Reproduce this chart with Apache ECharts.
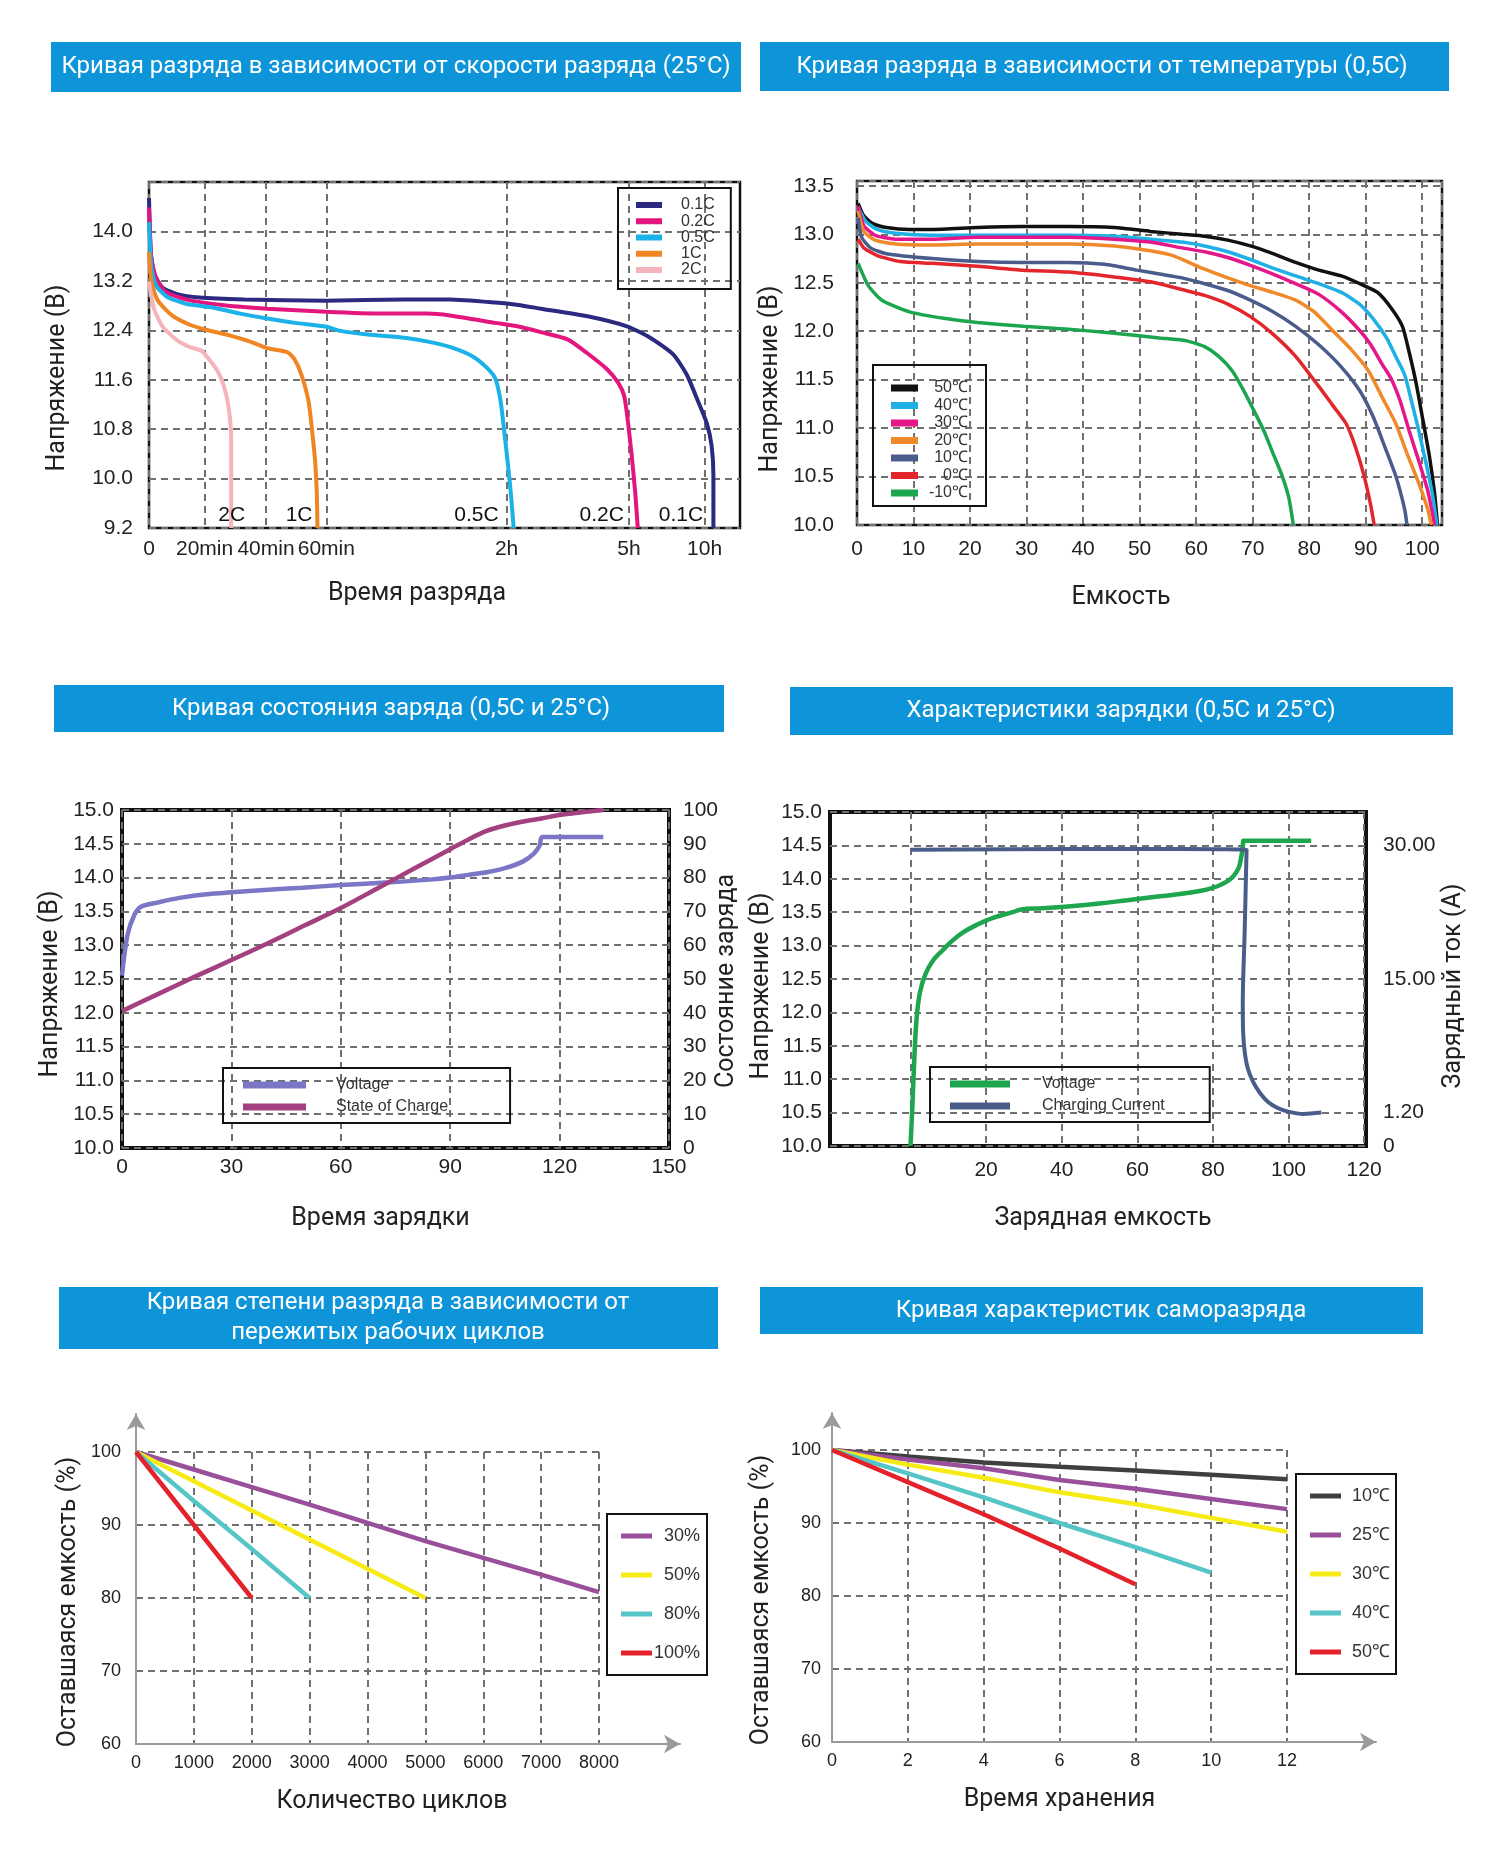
<!DOCTYPE html>
<html><head><meta charset="utf-8">
<script src="https://cdn.jsdelivr.net/npm/echarts@6/dist/echarts.min.js"></script>
<style>html,body{margin:0;padding:0;background:#fff}#c{width:1500px;height:1860px}</style>
</head><body><div id="c"></div>
<script>
// ---------- Panel 1: discharge vs rate (x in discharge-time axis units) ----------
const P1_TICK_POS = [0, 0.94, 1.98, 3.0, 6.05, 8.12, 9.40];
const P1_TICK_LABELS = ['0', '20min', '40min', '60min', '2h', '5h', '10h'];
const P1_NAMES = ['0.1C', '0.2C', '0.5C', '1C', '2C'];
const P1_01C = [[0,14.54],[0.03,13.67],[0.09,13.31],[0.23,13.09],[0.46,12.99],[0.85,12.93],[1.62,12.90],[2.99,12.88],[4.32,12.90],[5.09,12.90],[5.86,12.85],[6.25,12.81],[6.63,12.75],[7.40,12.63],[8.10,12.46],[8.48,12.28],[8.87,12.01],[9.10,11.68],[9.29,11.25],[9.44,10.89],[9.52,10.53],[9.55,10.05],[9.55,9.2]];
const P1_02C = [[0,14.39],[0.04,13.55],[0.12,13.25],[0.27,13.03],[0.62,12.90],[1.23,12.81],[2.00,12.75],[2.99,12.70],[3.93,12.67],[4.70,12.67],[5.09,12.64],[5.86,12.52],[6.25,12.46],[6.63,12.37],[7.09,12.25],[7.40,12.04],[7.75,11.77],[7.94,11.55],[8.04,11.34],[8.10,10.95],[8.17,10.35],[8.23,9.74],[8.27,9.2]];
const P1_05C = [[0,14.15],[0.04,13.43],[0.12,13.12],[0.31,12.94],[0.62,12.83],[1.08,12.77],[1.54,12.67],[2.00,12.59],[2.47,12.52],[2.99,12.46],[3.24,12.39],[3.70,12.33],[4.32,12.28],[4.70,12.22],[5.09,12.13],[5.47,11.98],[5.71,11.80],[5.86,11.62],[5.95,11.25],[6.01,10.77],[6.08,10.17],[6.13,9.68],[6.17,9.2]];
const P1_1C = [[0,13.67],[0.04,13.19],[0.15,12.88],[0.39,12.64],[0.69,12.49],[1.00,12.40],[1.39,12.31],[1.70,12.22],[2.00,12.11],[2.35,12.04],[2.47,11.92],[2.58,11.68],[2.70,11.25],[2.76,10.77],[2.81,10.29],[2.84,9.74],[2.85,9.2]];
const P1_2C = [[0,13.19],[0.08,12.76],[0.23,12.46],[0.46,12.25],[0.69,12.13],[0.89,12.07],[1.00,11.95],[1.16,11.74],[1.27,11.49],[1.35,11.13],[1.39,10.65],[1.39,10.05],[1.39,9.2]];
const P1_CURVE_LABELS = [[1.40,'2C'],[2.54,'1C'],[5.54,'0.5C'],[7.66,'0.2C'],[9.0,'0.1C']];

// ---------- Panel 2: discharge vs temperature (capacity %, V) ----------
const P2_NAMES = ['50℃', '40℃', '30℃', '20℃', '10℃', '0℃', '-10℃'];
const P2_50 = [[0.2,13.32],[1.2,13.19],[2.8,13.11],[5.2,13.07],[9.3,13.05],[13.3,13.05],[21.3,13.07],[29.4,13.08],[37.4,13.08],[45.5,13.07],[51.9,13.03],[57.5,13.00],[61.5,12.98],[65.6,12.94],[69.6,12.88],[73.6,12.80],[77.6,12.71],[81.7,12.63],[85.7,12.57],[89.7,12.47],[92.1,12.40],[94.5,12.24],[96.5,12.05],[97.7,11.78],[98.9,11.47],[100.1,11.09],[101.3,10.70],[102.2,10.32],[102.7,10.0]];
const P2_40 = [[0.2,13.28],[1.6,13.13],[3.6,13.05],[6.8,13.01],[13.3,12.99],[21.3,12.99],[29.4,12.99],[37.4,12.99],[45.5,12.98],[51.9,12.95],[57.5,12.92],[61.5,12.88],[65.6,12.82],[69.6,12.74],[73.6,12.65],[77.6,12.57],[81.7,12.49],[85.7,12.40],[88.9,12.28],[91.3,12.13],[93.7,11.93],[95.3,11.74],[96.9,11.55],[98.1,11.28],[99.4,10.97],[100.6,10.66],[101.8,10.32],[102.6,10.0]];
const P2_30 = [[0.2,13.29],[1.2,13.09],[3.2,12.99],[6.8,12.95],[13.3,12.95],[21.3,12.97],[29.4,12.97],[37.4,12.97],[45.5,12.95],[51.9,12.92],[57.5,12.86],[61.5,12.82],[65.6,12.76],[69.6,12.68],[73.6,12.59],[77.6,12.49],[81.7,12.38],[85.7,12.20],[88.9,12.01],[90.9,11.86],[92.9,11.66],[94.5,11.51],[96.1,11.28],[97.7,10.97],[99.4,10.66],[101.0,10.35],[102.2,10.0]];
const P2_20 = [[0.2,13.24],[1.2,13.03],[3.2,12.94],[6.8,12.90],[13.3,12.89],[21.3,12.90],[29.4,12.90],[37.4,12.90],[45.5,12.88],[51.9,12.83],[55.9,12.78],[59.1,12.70],[61.5,12.64],[65.6,12.55],[69.6,12.47],[73.6,12.40],[77.6,12.32],[80.9,12.20],[84.1,12.01],[87.3,11.82],[90.5,11.59],[92.9,11.32],[95.3,11.05],[97.3,10.74],[99.4,10.43],[101.0,10.16],[101.6,10.0]];
const P2_10 = [[0.2,13.17],[0.8,12.97],[2.4,12.86],[5.2,12.80],[13.3,12.75],[21.3,12.72],[29.4,12.71],[37.4,12.71],[43.8,12.69],[49.5,12.63],[53.5,12.59],[57.5,12.55],[61.5,12.49],[65.6,12.42],[69.6,12.32],[73.6,12.20],[77.6,12.05],[81.7,11.86],[85.7,11.63],[88.9,11.39],[91.3,11.12],[93.3,10.82],[95.3,10.51],[96.9,10.16],[97.3,10.0]];
const P2_0 = [[0.2,12.95],[1.2,12.86],[3.6,12.78],[7.6,12.72],[13.3,12.70],[21.3,12.67],[29.4,12.63],[37.4,12.61],[45.5,12.56],[51.9,12.51],[57.5,12.43],[61.5,12.37],[65.6,12.28],[69.6,12.15],[73.6,11.97],[77.6,11.74],[81.7,11.43],[84.1,11.24],[86.5,11.05],[88.1,10.82],[89.7,10.51],[90.9,10.20],[91.5,10.0]];
const P2_M10 = [[0.2,12.70],[2.0,12.47],[4.4,12.32],[9.3,12.20],[15.7,12.13],[21.3,12.09],[29.4,12.05],[37.4,12.02],[45.5,11.98],[53.5,11.93],[58.3,11.90],[61.5,11.84],[64.0,11.74],[66.4,11.59],[68.4,11.39],[70.4,11.16],[72.0,10.97],[73.6,10.74],[75.2,10.51],[76.4,10.28],[77.2,10.0]];

// ---------- Panel 3: state of charge (time, V / %) ----------
const P3_VOLTAGE = [[0,12.55],[1.5,13.15],[3.4,13.45],[5.2,13.57],[9.6,13.63],[15.8,13.70],[24.6,13.76],[37,13.81],[49.5,13.85],[60,13.89],[73.5,13.93],[84.5,13.97],[90,14.0],[95,14.04],[100,14.08],[105,14.14],[110,14.24],[113,14.36],[114.5,14.47],[115.3,14.6],[132,14.6]];
const P3_SOC = [[0,40.5],[10,45.6],[20,50.7],[30,55.6],[40,60.6],[50,65.8],[60,71.0],[70,76.8],[80,82.6],[90,88.4],[95,91.3],[100,93.8],[105,95.4],[110,96.6],[115,97.5],[120,98.5],[126,99.3],[132,100]];

// ---------- Panel 4: charging (capacity, V / A) ----------
const P4_X_TICKS = [0, 20, 40, 60, 80, 100, 120];
const P4_VOLTAGE = [[0,10.0],[0.5,10.6],[1.0,11.3],[1.6,11.9],[2.5,12.3],[4.0,12.58],[6.0,12.78],[8.5,12.93],[11,13.07],[14,13.2],[17.5,13.31],[22,13.42],[27,13.5],[29.3,13.54],[34.9,13.56],[42.4,13.59],[49.9,13.63],[57.4,13.68],[64.8,13.73],[72.3,13.78],[79.7,13.86],[84.5,13.99],[86.7,14.15],[87.5,14.33],[87.9,14.47],[88.0,14.57],[106.0,14.57]];
const P4_CURRENT = [[0,29.5],[44,29.6],[88.9,29.5],[88.4,20.3],[87.9,12.5],[88.0,9.5],[88.4,7.5],[89.2,5.8],[90.6,4.4],[92.5,3.2],[94.6,2.3],[97.0,1.7],[99.9,1.3],[104,1.15],[108.7,1.2]];
const P4_CURRENT_TICKS = [0, 1.2, 15, 30];
const P4_CURRENT_TICK_LABELS = ['0', '1.20', '15.00', '30.00'];
const P4_CURRENT_TICK_AT_V = [10, 10.5, 12.5, 14.5]; // where the right-axis ticks sit on the voltage scale

// ---------- Panel 5: cycles ----------
const P5_NAMES = ['30%', '50%', '80%', '100%'];
const P5_30 = [[0,100],[1000,97.6],[2000,95.2],[3000,92.8],[4000,90.3],[5000,87.8],[6000,85.5],[7000,83.2],[8000,80.8]];
const P5_50 = [[0,100],[1000,96],[2000,92],[3000,88],[4000,84],[5000,80]];
const P5_80 = [[0,100],[1000,93.3],[2000,86.7],[3000,80]];
const P5_100 = [[0,100],[1000,90],[2000,80]];

// ---------- Panel 6: self-discharge ----------
const P6_NAMES = ['10℃', '25℃', '30℃', '40℃', '50℃'];
const P6_10 = [[0,100],[2,99.1],[4,98.3],[6,97.7],[8,97.2],[10,96.6],[12,96.0]];
const P6_25 = [[0,100],[2,98.7],[4,97.5],[6,95.9],[8,94.7],[10,93.3],[12,91.9]];
const P6_30 = [[0,100],[2,98.0],[4,96.2],[6,94.2],[8,92.6],[10,90.7],[12,88.8]];
const P6_40 = [[0,100],[2,96.8],[4,93.5],[6,90.0],[8,86.7],[10,83.2]];
const P6_50 = [[0,100],[2,95.6],[4,91.2],[6,86.5],[8,81.6]];

const TITLES = [
  'Кривая разряда в зависимости от скорости разряда (25°C)',
  'Кривая разряда в зависимости от температуры (0,5C)',
  'Кривая состояния заряда (0,5C и 25°C)',
  'Характеристики зарядки (0,5C и 25°C)',
  'Кривая степени разряда в зависимости от\nпережитых рабочих циклов',
  'Кривая характеристик саморазряда'
];

// ---------------------------------------------------------------------
const FN = "'Liberation Sans', Arial, Helvetica, sans-serif";
const FT = "Roboto, 'Noto Sans', 'Liberation Sans', sans-serif";
const TXT = '#222';
const BLUE = '#0e95d9';
const DASH = {show: true, lineStyle: {color: '#707070', width: 2, type: [7, 5]}};
const NAME_SIZE = 25;

function currentToPos(a) {
  const t = P4_CURRENT_TICKS, p = P4_CURRENT_TICK_AT_V;
  for (let i = 0; i < t.length - 1; i++) {
    if (a <= t[i + 1] || i === t.length - 2) {
      return p[i] + (a - t[i]) / (t[i + 1] - t[i]) * (p[i + 1] - p[i]);
    }
  }
}
function lab(size, margin, extra) {
  return Object.assign({fontSize: size, color: TXT, fontFamily: FN, margin: margin}, extra || {});
}
function nm(pad) {
  return {fontSize: NAME_SIZE, color: TXT, fontFamily: FT, padding: pad || [0, 0, 0, 0]};
}
const NONE = {show: false};
function line(name, data, color, xi, yi, width, smooth) {
  return {type: 'line', name: name, data: data, xAxisIndex: xi, yAxisIndex: yi, symbol: 'none', showSymbol: false,
    smooth: smooth === undefined ? 0.2 : smooth, lineStyle: {width: width || 4, color: color}, itemStyle: {color: color},
    clip: true, animation: false, z: 3};
}

const LEG_LABEL = {};
function legend(prefix, names, opts) {
  const data = names.map(n => { LEG_LABEL[prefix + n] = n; return prefix + n; });
  return Object.assign({
    data: data, orient: 'vertical', icon: 'rect', selectedMode: false,
    borderColor: '#111', borderWidth: 2, backgroundColor: 'transparent'
  }, opts);
}

const graphic = [];
const bars = [
  [51, 42, 690, 50, 396, 67],
  [760, 42, 689, 49, 1102, 67],
  [54, 685, 670, 47, 391, 709],
  [790, 687, 663, 48, 1121, 711],
  [59, 1287, 659, 62, 388, 1318],
  [760, 1287, 663, 47, 1101, 1311]
];
bars.forEach((b, i) => {
  graphic.push({type: 'rect', shape: {x: b[0], y: b[1], width: b[2], height: b[3]}, style: {fill: BLUE}, z: 1});
  graphic.push({type: 'text', x: b[4], y: b[5], z: 2, style: {text: TITLES[i], fill: '#fff', align: 'center', verticalAlign: 'middle',
    font: 'normal 24px ' + FT, lineHeight: 30}});
});

const grid = [
  {left: 149, top: 182, width: 591, height: 346, show: true, borderColor: '#111', borderWidth: 2.5},
  {left: 857, top: 181, width: 585, height: 344, show: true, borderColor: '#111', borderWidth: 2.5},
  {left: 122, top: 810, width: 547, height: 338, show: true, borderColor: '#111', borderWidth: 4},
  {left: 830, top: 812, width: 536, height: 334, show: true, borderColor: '#111', borderWidth: 4},
  {left: 136, top: 1452, width: 463, height: 292},
  {left: 136, top: 1414, width: 544, height: 330},
  {left: 832, top: 1450, width: 455, height: 292},
  {left: 832, top: 1413, width: 544, height: 329}
];

function arrowAxis(gi) {
  return {gridIndex: gi, type: 'value', min: 0, max: 1,
    axisLine: {show: true, symbol: ['none', 'arrow'], symbolSize: [14, 16], lineStyle: {color: '#9a9a9a', width: 2}},
    axisTick: NONE, axisLabel: NONE, splitLine: NONE};
}
const plain = v => String(v);

const xAxis = [
  {gridIndex: 0, type: 'value', min: 0, max: 10, axisLine: NONE,
    axisTick: {show: false, customValues: P1_TICK_POS},
    axisLabel: lab(21, 11, {customValues: P1_TICK_POS, formatter: v => { const i = P1_TICK_POS.indexOf(v); return i < 0 ? '' : P1_TICK_LABELS[i]; }}),
    splitLine: DASH, name: 'Время разряда', nameLocation: 'middle', nameGap: 53, nameTextStyle: nm([0, 55, 0, 0])},
  {gridIndex: 1, type: 'value', min: 0, max: 103.5, interval: 10, axisLine: NONE, axisTick: NONE,
    axisLabel: lab(21, 14, {showMaxLabel: false}), splitLine: DASH,
    name: 'Емкость', nameLocation: 'middle', nameGap: 60, nameTextStyle: nm([0, 57, 0, 0])},
  {gridIndex: 2, type: 'value', min: 0, max: 150, interval: 30, axisLine: NONE, axisTick: NONE,
    axisLabel: lab(21, 9), splitLine: DASH,
    name: 'Время зарядки', nameLocation: 'middle', nameGap: 58, nameTextStyle: nm([0, 30, 0, 0])},
  {gridIndex: 3, type: 'value', min: -21.3, max: 120.5, axisLine: NONE,
    axisTick: {show: false, customValues: P4_X_TICKS},
    axisLabel: lab(21, 14, {customValues: P4_X_TICKS}), splitLine: DASH,
    name: 'Зарядная емкость', nameLocation: 'middle', nameGap: 60, nameTextStyle: nm([0, 0, 0, 10])},
  {gridIndex: 4, type: 'value', min: 0, max: 8000, interval: 1000, axisLine: NONE, axisTick: NONE,
    axisLabel: lab(18, 10, {formatter: plain}), splitLine: DASH,
    name: 'Количество циклов', nameLocation: 'middle', nameGap: 45, nameTextStyle: nm([0, 0, 0, 49])},
  arrowAxis(5),
  {gridIndex: 6, type: 'value', min: 0, max: 12, interval: 2, axisLine: NONE, axisTick: NONE,
    axisLabel: lab(18, 10, {formatter: plain}), splitLine: DASH,
    name: 'Время хранения', nameLocation: 'middle', nameGap: 45, nameTextStyle: nm()},
  arrowAxis(7)
];

const yAxis = [
  {gridIndex: 0, type: 'value', min: 9.2, max: 14.8, interval: 0.8, axisLine: NONE, axisTick: NONE,
    axisLabel: lab(21, 16, {showMaxLabel: false, formatter: v => v.toFixed(1)}), splitLine: DASH,
    name: 'Напряжение (B)', nameLocation: 'middle', nameGap: 79, nameTextStyle: nm([0, 46, 0, 0])},
  {gridIndex: 1, type: 'value', min: 10, max: 13.55, interval: 0.5, axisLine: NONE, axisTick: NONE,
    axisLabel: lab(21, 23, {showMaxLabel: false, formatter: v => v.toFixed(1)}), splitLine: DASH,
    name: 'Напряжение (B)', nameLocation: 'middle', nameGap: 74, nameTextStyle: nm([0, 52, 0, 0])},
  {gridIndex: 2, type: 'value', min: 10, max: 15, interval: 0.5, axisLine: NONE, axisTick: NONE,
    axisLabel: lab(21, 8, {formatter: v => v.toFixed(1)}), splitLine: DASH,
    name: 'Напряжение (B)', nameLocation: 'middle', nameGap: 59, nameTextStyle: nm([0, 10, 0, 0])},
  {gridIndex: 2, type: 'value', position: 'right', min: 0, max: 100, interval: 10, axisLine: NONE, axisTick: NONE,
    axisLabel: lab(21, 14), splitLine: NONE,
    name: 'Состояние заряда', nameLocation: 'middle', nameGap: 45, nameMoveOverlap: false, nameTextStyle: nm([0, 4, 0, 0])},
  {gridIndex: 3, type: 'value', min: 10, max: 15, interval: 0.5, axisLine: NONE, axisTick: NONE,
    axisLabel: lab(21, 8, {formatter: v => v.toFixed(1)}), splitLine: DASH,
    name: 'Напряжение (B)', nameLocation: 'middle', nameGap: 56, nameTextStyle: nm([0, 14, 0, 0])},
  {gridIndex: 3, type: 'value', position: 'right', min: 10, max: 15, axisLine: NONE,
    axisTick: {show: false, customValues: P4_CURRENT_TICK_AT_V},
    axisLabel: lab(21, 17, {customValues: P4_CURRENT_TICK_AT_V, formatter: v => { const i = P4_CURRENT_TICK_AT_V.indexOf(v); return i < 0 ? '' : P4_CURRENT_TICK_LABELS[i]; }}),
    splitLine: NONE,
    name: 'Зарядный ток (A)', nameLocation: 'middle', nameGap: 75, nameTextStyle: nm([0, 14, 0, 0])},
  {gridIndex: 4, type: 'value', min: 60, max: 100, interval: 10, axisLine: NONE, axisTick: NONE,
    axisLabel: lab(18, 15), splitLine: DASH,
    name: 'Оставшаяся емкость (%)', nameLocation: 'middle', nameGap: 55, nameTextStyle: nm([0, 8, 0, 0])},
  arrowAxis(5),
  {gridIndex: 6, type: 'value', min: 60, max: 100, interval: 10, axisLine: NONE, axisTick: NONE,
    axisLabel: lab(18, 11), splitLine: DASH,
    name: 'Оставшаяся емкость (%)', nameLocation: 'middle', nameGap: 58, nameTextStyle: nm([0, 8, 0, 0])},
  arrowAxis(7)
];

const C1 = ['#2b2a80', '#e3167f', '#1ab2e8', '#f08524', '#f5b3bc'];
const C2 = ['#111111', '#1fb0e6', '#e4168a', '#f0892a', '#4a5c8c', '#e3262c', '#1ba54e'];
const C5 = ['#9a4f9b', '#f6eb14', '#55c5c7', '#e3222b'];
const C6 = ['#3f3f3f', '#9a4f9b', '#f6eb14', '#55c5c7', '#e3222b'];

const series = [];
[P1_01C, P1_02C, P1_05C, P1_1C, P1_2C].forEach((d, i) => series.push(line('a' + P1_NAMES[i], d, C1[i], 0, 0, 4)));
series.push({type: 'scatter', xAxisIndex: 0, yAxisIndex: 0, symbolSize: 2, itemStyle: {color: 'rgba(0,0,0,0)'}, clip: false, silent: true, z: 5,
  data: P1_CURVE_LABELS.map(l => [l[0], 9.2, l[1]]),
  label: {show: true, position: 'top', distance: 1, formatter: p => p.data[2], fontSize: 21, color: '#111', opacity: 1, fontFamily: FN}});
[P2_50, P2_40, P2_30, P2_20, P2_10, P2_0, P2_M10].forEach((d, i) => series.push(line('b' + P2_NAMES[i], d, C2[i], 1, 1, 3.5)));
series.push(line('cVoltage', P3_VOLTAGE, '#7b76c6', 2, 2, 4.5, 0.3));
series.push(line('cState of Charge', P3_SOC, '#a3407f', 2, 3, 4.5, 0.3));
series.push(line('dVoltage', P4_VOLTAGE, '#1ea64e', 3, 4, 4.5, 0.4));
series.push(line('dCharging Current', P4_CURRENT.map(p => [p[0], currentToPos(p[1])]), '#4a5c8a', 3, 5, 4, 0.3));
[P5_30, P5_50, P5_80, P5_100].forEach((d, i) => series.push(line('e' + P5_NAMES[i], d, C5[i], 4, 6, 4.5, 0)));
[P6_10, P6_25, P6_30, P6_40, P6_50].forEach((d, i) => series.push(line('f' + P6_NAMES[i], d, C6[i], 6, 8, 4.5, 0)));

const legends = [
  legend('a', P1_NAMES, {left: 618, top: 188, itemWidth: 26, itemHeight: 6, itemGap: 0.25, padding: [9, 16, 11, 18],
    textStyle: {fontSize: 16, color: '#333', fontFamily: FN, padding: [0, 0, 0, 14]}}),
  legend('b', P2_NAMES, {left: 873, top: 365, itemWidth: 27, itemHeight: 7, itemGap: 1.5, padding: [15, 18, 5, 18],
    textStyle: {fontSize: 16, color: '#333', fontFamily: FN, rich: {r: {width: 45, align: 'right', fontSize: 16, color: '#333', fontFamily: FN}}},
    formatter: n => '{r|' + LEG_LABEL[n] + '}'}),
  legend('c', ['Voltage', 'State of Charge'], {left: 223, top: 1068, itemWidth: 63, itemHeight: 7, itemGap: 6, padding: [9, 62, 8, 20],
    textStyle: {fontSize: 16, color: '#333', fontFamily: FN, padding: [0, 0, 0, 25]}}),
  legend('d', ['Voltage', 'Charging Current'], {left: 930, top: 1067, itemWidth: 60, itemHeight: 7, itemGap: 6, padding: [9, 45, 8, 20],
    textStyle: {fontSize: 16, color: '#333', fontFamily: FN, padding: [0, 0, 0, 27]}}),
  legend('e', P5_NAMES, {left: 607, top: 1514, itemWidth: 31, itemHeight: 5, itemGap: 21, padding: [13, 7, 13, 14],
    textStyle: {fontSize: 18, color: '#333', fontFamily: FN, rich: {r: {width: 43, align: 'right', fontSize: 18, color: '#333', fontFamily: FN}}},
    formatter: n => '{r|' + LEG_LABEL[n] + '}'}),
  legend('f', P6_NAMES, {left: 1296, top: 1474, itemWidth: 31, itemHeight: 5, itemGap: 21, padding: [13, 6, 13, 14],
    textStyle: {fontSize: 18, color: '#333', fontFamily: FN, rich: {r: {width: 44, align: 'right', fontSize: 18, color: '#333', fontFamily: FN}}},
    formatter: n => '{r|' + LEG_LABEL[n] + '}'})
];
legends.forEach(l => { if (!l.formatter) l.formatter = n => LEG_LABEL[n]; });

const chart = echarts.init(document.getElementById('c'), null, {renderer: 'canvas'});
chart.setOption({
  backgroundColor: '#fff',
  animation: false,
  graphic: graphic,
  grid: grid,
  xAxis: xAxis,
  yAxis: yAxis,
  legend: legends,
  series: series
});
</script></body></html>
